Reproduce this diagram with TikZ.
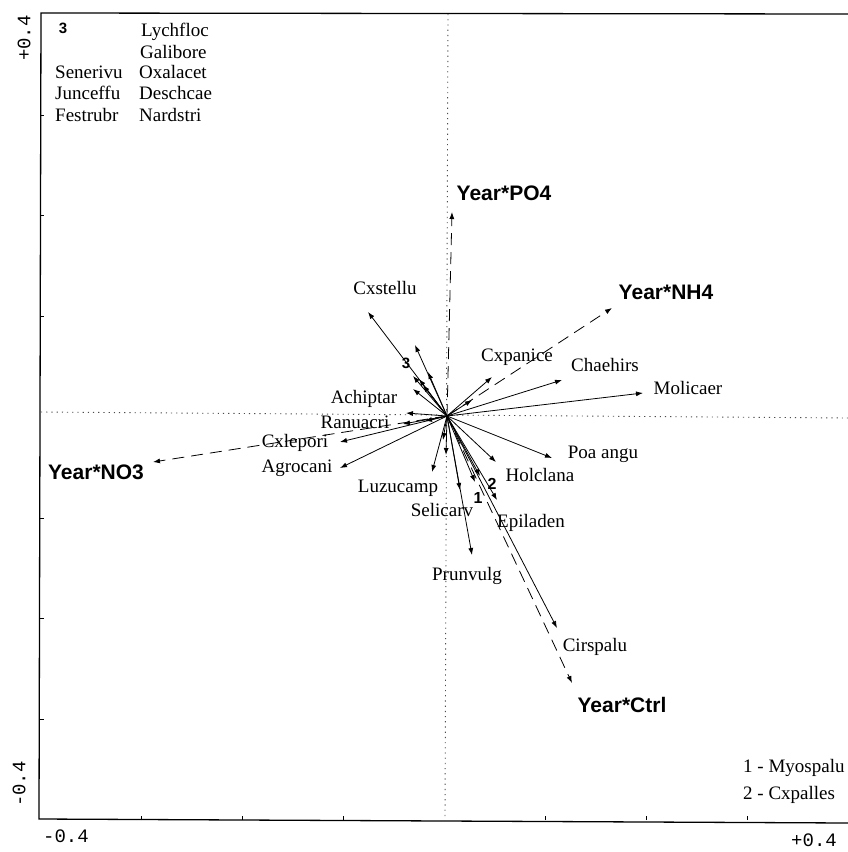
\documentclass[tikz,border=0pt]{standalone}
\usepackage{fontspec}
\setmainfont{Liberation Serif}
\setsansfont{Liberation Sans}
\setmonofont{Liberation Mono}
\usetikzlibrary{arrows.meta}
\begin{document}
\begin{tikzpicture}[x=1pt,y=-1pt,
  sp/.style={font=\fontsize{19}{22}\selectfont, inner sep=0pt},
  env/.style={font=\fontsize{21}{24}\sffamily\bfseries\selectfont, inner sep=0pt},
  num/.style={font=\fontsize{15}{18}\sffamily\bfseries\selectfont, inner sep=0pt},
  axl/.style={font=\fontsize{19}{22}\ttfamily\selectfont, inner sep=0pt},
  sparrow/.style={line width=0.8pt, -{Latex[length=7pt,width=5pt]}},
  envarrow/.style={line width=0.8pt, dash pattern=on 12pt off 7pt, -{Latex[length=7pt,width=5pt]}},
  axisdot/.style={line width=0.9pt, dash pattern=on 1.2pt off 4pt, black!70},
  frameline/.style={line width=1.3pt},
  tick/.style={line width=0.8pt},
]
\useasboundingbox (0,0) rectangle (848,852);

% frame
\coordinate (TR) at (848,14);
\coordinate (TL) at (41,13);
\coordinate (BL) at (39,819);
\coordinate (BR) at (848,823);
\draw[frameline] (TR) -- (TL) -- (BL) -- (BR);

% ticks
\foreach \yy in {115,215,316,518,618,719} \draw[tick] (40,\yy) -- (44,\yy);
\foreach \xx in {141,242,343,545,646,747} \draw[tick] (\xx,820) -- (\xx,816);

% axis labels
\node[axl, rotate=90] (ytop) at (24,38) {+0.4};
\node[axl, rotate=90] (ybot) at (19,784) {-0.4};
\node[axl] (xleft) at (66,836) {-0.4};
\node[axl] (xright) at (814,840) {+0.4};

% dotted axes
\coordinate (HL) at (41,412);
\coordinate (HR) at (848,418);
\coordinate (VT) at (448,14);
\coordinate (VB) at (445,820);
\draw[axisdot] (HL) -- (HR);
\draw[axisdot] (VT) -- (VB);

% origin
\coordinate (O) at (447,416);

% environmental arrows
\coordinate (ePO4) at (452,212);
\coordinate (eNH4) at (612,308);
\coordinate (eNO3) at (153,462);
\coordinate (eCtrl) at (572,683);
\draw[envarrow] (O) -- (ePO4);
\draw[envarrow] (O) -- (eNH4);
\draw[envarrow] (O) -- (eNO3);
\draw[envarrow] (O) -- (eCtrl);
\node[env] (lPO4) at (504,193) {Year*PO4};
\node[env] (lNH4) at (666,292) {Year*NH4};
\node[env] (lNO3) at (96,472) {Year*NO3};
\node[env] (lCtrl) at (622,705) {Year*Ctrl};

% species arrows
\coordinate (sCxstellu) at (368,312);
\coordinate (sCxpanice) at (492,377);
\coordinate (sChaehirs) at (562,380);
\coordinate (sMolicaer) at (643,393);
\coordinate (sPoa) at (552,458);
\coordinate (sHolclana) at (496,462);
\coordinate (sEpiladen) at (497,500);
\coordinate (sCirspalu) at (557,628);
\coordinate (sPrunvulg) at (472,555);
\coordinate (sSelicarv) at (460,490);
\coordinate (sLuzucamp) at (432,472);
\coordinate (sAgrocani) at (340,468);
\coordinate (sCxlepori) at (340,442);
\coordinate (sRanuacri) at (403,424);
\coordinate (sAchiptar) at (406,413);
\coordinate (sMyos) at (475,482);
\coordinate (sCxpal) at (480,476);
\coordinate (sA) at (415,345);
\coordinate (sB) at (428,372);
\coordinate (sC) at (413,376);
\coordinate (sD) at (419,379);
\coordinate (sE) at (413,389);
\coordinate (sF) at (423,385);
\coordinate (sG) at (472,400);
\coordinate (sH) at (425,421);
\coordinate (sI) at (443,440);
\coordinate (sJ) at (446,455);
\foreach \t in {sCxstellu,sCxpanice,sChaehirs,sMolicaer,sPoa,sHolclana,sEpiladen,sCirspalu,sPrunvulg,sSelicarv,sLuzucamp,sAgrocani,sCxlepori,sRanuacri,sAchiptar,sMyos,sCxpal,sA,sB,sC,sD,sE,sF,sG,sH,sI,sJ}
  \draw[sparrow] (O) -- (\t);

% species labels
\node[sp] (lCxstellu) at (385,288) {Cxstellu};
\node[sp] (lCxpanice) at (517,357) {Cxpanice};
\node[sp] (lChaehirs) at (605,365) {Chaehirs};
\node[sp] (lMolicaer) at (688,388) {Molicaer};
\node[sp] (lPoa) at (603,454) {Poa angu};
\node[sp] (lHolclana) at (540,475) {Holclana};
\node[sp] (lEpiladen) at (531,523) {Epiladen};
\node[sp] (lCirspalu) at (595,647) {Cirspalu};
\node[sp] (lPrunvulg) at (467,576) {Prunvulg};
\node[sp] (lSelicarv) at (442,510) {Selicarv};
\node[sp] (lLuzucamp) at (398,488) {Luzucamp};
\node[sp] (lAgrocani) at (297,468) {Agrocani};
\node[sp] (lCxlepori) at (295,443) {Cxlepori};
\node[sp] (lRanuacri) at (355,422) {Ranuacri};
\node[sp] (lAchiptar) at (364,399) {Achiptar};
\node[num] (n3) at (406,363) {3};
\node[num, font=\fontsize{16}{18}\sffamily\bfseries\selectfont] (n1) at (478,498) {1};
\node[num, font=\fontsize{16}{18}\sffamily\bfseries\selectfont] (n2) at (492,484) {2};

% legend top-left
\node[num] (g3) at (63,28) {3};
\node[sp, anchor=west] (gLych) at (141,32) {Lychfloc};
\node[sp, anchor=west] (gGali) at (140,52) {Galibore};
\node[sp, anchor=west] (gSene) at (55,72) {Senerivu};
\node[sp, anchor=west] (gOxal) at (139,72) {Oxalacet};
\node[sp, anchor=west] (gJunc) at (55,93) {Junceffu};
\node[sp, anchor=west] (gDesc) at (139,93) {Deschcae};
\node[sp, anchor=west] (gFest) at (55,115) {Festrubr};
\node[sp, anchor=west] (gNard) at (139,115) {Nardstri};

% legend bottom-right
\node[sp, anchor=west] (gMyos) at (743,768) {1 - Myospalu};
\node[sp, anchor=west] (gCxpa) at (743,795) {2 - Cxpalles};
\end{tikzpicture}
\end{document}
